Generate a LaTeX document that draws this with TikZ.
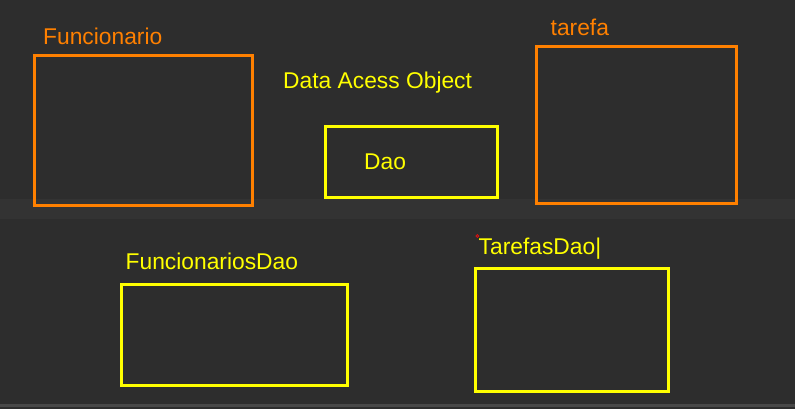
\documentclass[tikz,border=0pt]{standalone}
\usepackage{fontspec}
\setmainfont{Liberation Sans}
\definecolor{bg}{HTML}{2D2D2D}
\definecolor{band}{HTML}{333333}
\definecolor{rulegray}{HTML}{484848}
\definecolor{orng}{HTML}{FF8000}
\definecolor{yllw}{HTML}{FFFF00}
\definecolor{redmark}{HTML}{E01010}
\begin{document}
\begin{tikzpicture}[x=1pt,y=-1pt,
  obox/.style={draw=orng,line width=3pt},
  ybox/.style={draw=yllw,line width=3pt},
  lbl/.style={font=\fontsize{22.8}{26}\selectfont,anchor=base west,inner sep=0pt},
  olbl/.style={lbl,text=orng},
  ylbl/.style={lbl,text=yllw}]
\fill[bg] (0,0) rectangle (795,409);
\useasboundingbox (0,0) rectangle (795,409);
\fill[band] (0,199) rectangle (795,219);
\fill[rulegray] (0,404) rectangle (795,406.7);
% boxes
\draw[obox] (34.8,55.5) rectangle (252.5,205.2);
\draw[ybox] (325.5,126.5) rectangle (497.5,197.5);
\draw[obox] (536.5,46.5) rectangle (736.5,203);
\draw[ybox] (121,284) rectangle (347.5,385);
\draw[ybox] (475,268.5) rectangle (668.5,391);
% labels
\node[olbl] (funcionario) at (43,45) {Funcionario};
\node[olbl] (tarefa) at (550.5,36) {tarefa};
\node[ylbl] (dataacess) at (283,89) {Data Acess Object};
\node[ylbl] (dao) at (364,169) {Dao};
\node[ylbl] (funcdao) at (125.5,269) {FuncionariosDao};
\node[ylbl] (tarefasdao) at (478.5,254) {TarefasDao|};
\draw[redmark,line width=0.8pt] (477.3,236) circle (1.4pt);
\end{tikzpicture}
\end{document}
